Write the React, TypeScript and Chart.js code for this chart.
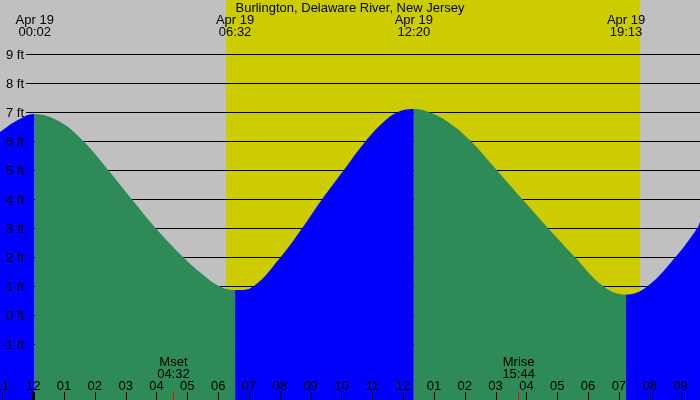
import React, { useEffect, useRef } from "react";
import { Chart, registerables } from "chart.js";

Chart.register(...registerables);

// ---- data ----
const TITLE = "Burlington, Delaware River, New Jersey";
const tideHours = [
  -1.093, -0.5, 0.033, 0.85, 1.62, 2.43, 3.19, 3.97, 4.86, 5.5, 6.05, 6.533, 7.12,
  8.0, 8.7, 9.35, 10.05, 10.76, 11.3, 11.78, 12.333, 12.9, 13.51, 14.16, 15.03, 15.86,
  16.7, 17.57, 18.49, 19.217, 19.9, 20.81, 21.52, 21.616,
];
const tideFeet = [
  6.33, 6.75, 6.95, 6.68, 6.0, 5.0, 4.0, 3.0, 2.0, 1.4, 1.0, 0.88, 1.0,
  2.0, 3.0, 4.0, 5.0, 6.0, 6.62, 7.0, 7.12, 6.98, 6.62, 6.03, 5.0, 4.0,
  3.0, 2.0, 1.0, 0.72, 1.0, 2.0, 3.0, 3.23,
];
const footLevels = [-1, 0, 1, 2, 3, 4, 5, 6, 7, 8, 9];
const hourTicks = [-1, 0, 1, 2, 3, 4, 5, 6, 7, 8, 9, 10, 11, 12, 13, 14, 15, 16, 17, 18, 19, 20, 21];
const hourLabels = [
  "11", "12", "01", "02", "03", "04", "05", "06", "07", "08", "09", "10", "11",
  "12", "01", "02", "03", "04", "05", "06", "07", "08", "09",
];
const extremeHours = [0.033, 6.533, 12.333, 19.217];
const extremeDates = ["Apr 19", "Apr 19", "Apr 19", "Apr 19"];
const extremeTimes = ["00:02", "06:32", "12:20", "19:13"];
const sunriseHour = 6.24;
const sunsetHour = 19.67;
const moonHours = [4.533, 15.733];
const moonNames = ["Mset", "Mrise"];
const moonTimes = ["04:32", "15:44"];

const X_MIN = -1.093;
const X_MAX = 21.616;
const Y_MIN = -2.914;
const Y_MAX = 10.879;

// ---- styles ----
const GRAY = "#c0c0c0";
const YELLOW = "#cccc00";
const GREEN = "#2e8b57";
const BLUE = "#0000ff";
const FONT = "13px 'Liberation Sans', Arial, sans-serif";

const decorPlugin = {
  id: "tideDecor",
  beforeDraw(chart: any) {
    const { ctx } = chart;
    const x = chart.scales.x;
    ctx.save();
    ctx.fillStyle = GRAY;
    ctx.fillRect(0, 0, chart.width, chart.height);
    const x0 = Math.round(x.getPixelForValue(sunriseHour));
    const x1 = Math.round(x.getPixelForValue(sunsetHour));
    ctx.fillStyle = YELLOW;
    ctx.fillRect(x0, 0, x1 - x0, chart.height);
    ctx.restore();
  },
  beforeDatasetsDraw(chart: any) {
    const { ctx } = chart;
    const y = chart.scales.y;
    ctx.save();
    ctx.strokeStyle = "#000";
    ctx.lineWidth = 1;
    for (const f of footLevels) {
      const py = Math.floor(y.getPixelForValue(f)) + 0.5;
      ctx.beginPath();
      ctx.moveTo(26, py);
      ctx.lineTo(chart.width, py);
      ctx.stroke();
    }
    ctx.restore();
  },
  afterDatasetsDraw(chart: any) {
    const { ctx } = chart;
    const x = chart.scales.x;
    const y = chart.scales.y;
    ctx.save();
    ctx.font = FONT;
    ctx.fillStyle = "#000";
    ctx.textBaseline = "alphabetic";

    // y labels
    ctx.textAlign = "right";
    for (const f of footLevels) {
      const py = y.getPixelForValue(f);
      ctx.fillText(f + " ft", 24, py + 5);
    }

    // title
    ctx.textAlign = "center";
    ctx.fillText(TITLE, chart.width / 2, 12);

    // extremes
    extremeHours.forEach((h, i) => {
      const px = x.getPixelForValue(h);
      ctx.fillText(extremeDates[i], px, 24);
      ctx.fillText(extremeTimes[i], px, 36);
    });

    // hour ticks and labels
    hourTicks.forEach((h, i) => {
      const px = x.getPixelForValue(h);
      ctx.fillStyle = "#000";
      ctx.fillText(hourLabels[i], px - 0.5, 390);
      if (h === 0) {
        ctx.fillRect(Math.round(px) - 2, 392, 3, 8);
      } else {
        ctx.fillRect(Math.floor(px), 392, 1, 8);
      }
    });

    // moon events
    moonHours.forEach((h, i) => {
      const px = x.getPixelForValue(h);
      ctx.fillStyle = "#000";
      ctx.fillText(moonNames[i], px, 366);
      ctx.fillText(moonTimes[i], px, 378);
      ctx.fillStyle = "#ff0000";
      ctx.fillRect(Math.floor(px), 392, 1, 8);
    });

    ctx.restore();
  },
};

export default function App() {
  const canvasRef = useRef<HTMLCanvasElement | null>(null);

  useEffect(() => {
    if (!canvasRef.current) return;
    const points = tideHours.map((h, i) => ({ x: h, y: tideFeet[i] }));
    const chart = new Chart(canvasRef.current, {
      type: "line",
      data: {
        datasets: [
          {
            data: points,
            fill: "start",
            borderWidth: 0,
            borderColor: "rgba(0,0,0,0)",
            backgroundColor: GREEN,
            pointRadius: 0,
            tension: 0.4,
            segment: {
              backgroundColor: (c: any) =>
                c.p1.parsed.y > c.p0.parsed.y ? BLUE : GREEN,
            },
          } as any,
        ],
      },
      options: {
        animation: false,
        responsive: false,
        devicePixelRatio: 1,
        layout: { padding: 0 },
        scales: {
          x: { type: "linear", min: X_MIN, max: X_MAX, display: false },
          y: { type: "linear", min: Y_MIN, max: Y_MAX, display: false },
        },
        plugins: {
          legend: { display: false },
          tooltip: { enabled: false },
        },
        events: [],
      },
      plugins: [decorPlugin],
    });
    return () => chart.destroy();
  }, []);

  return (
    <div style={{ position: "fixed", left: 0, top: 0, width: 700, height: 400 }}>
      <canvas ref={canvasRef} width={700} height={400} style={{ display: "block" }} />
    </div>
  );
}
